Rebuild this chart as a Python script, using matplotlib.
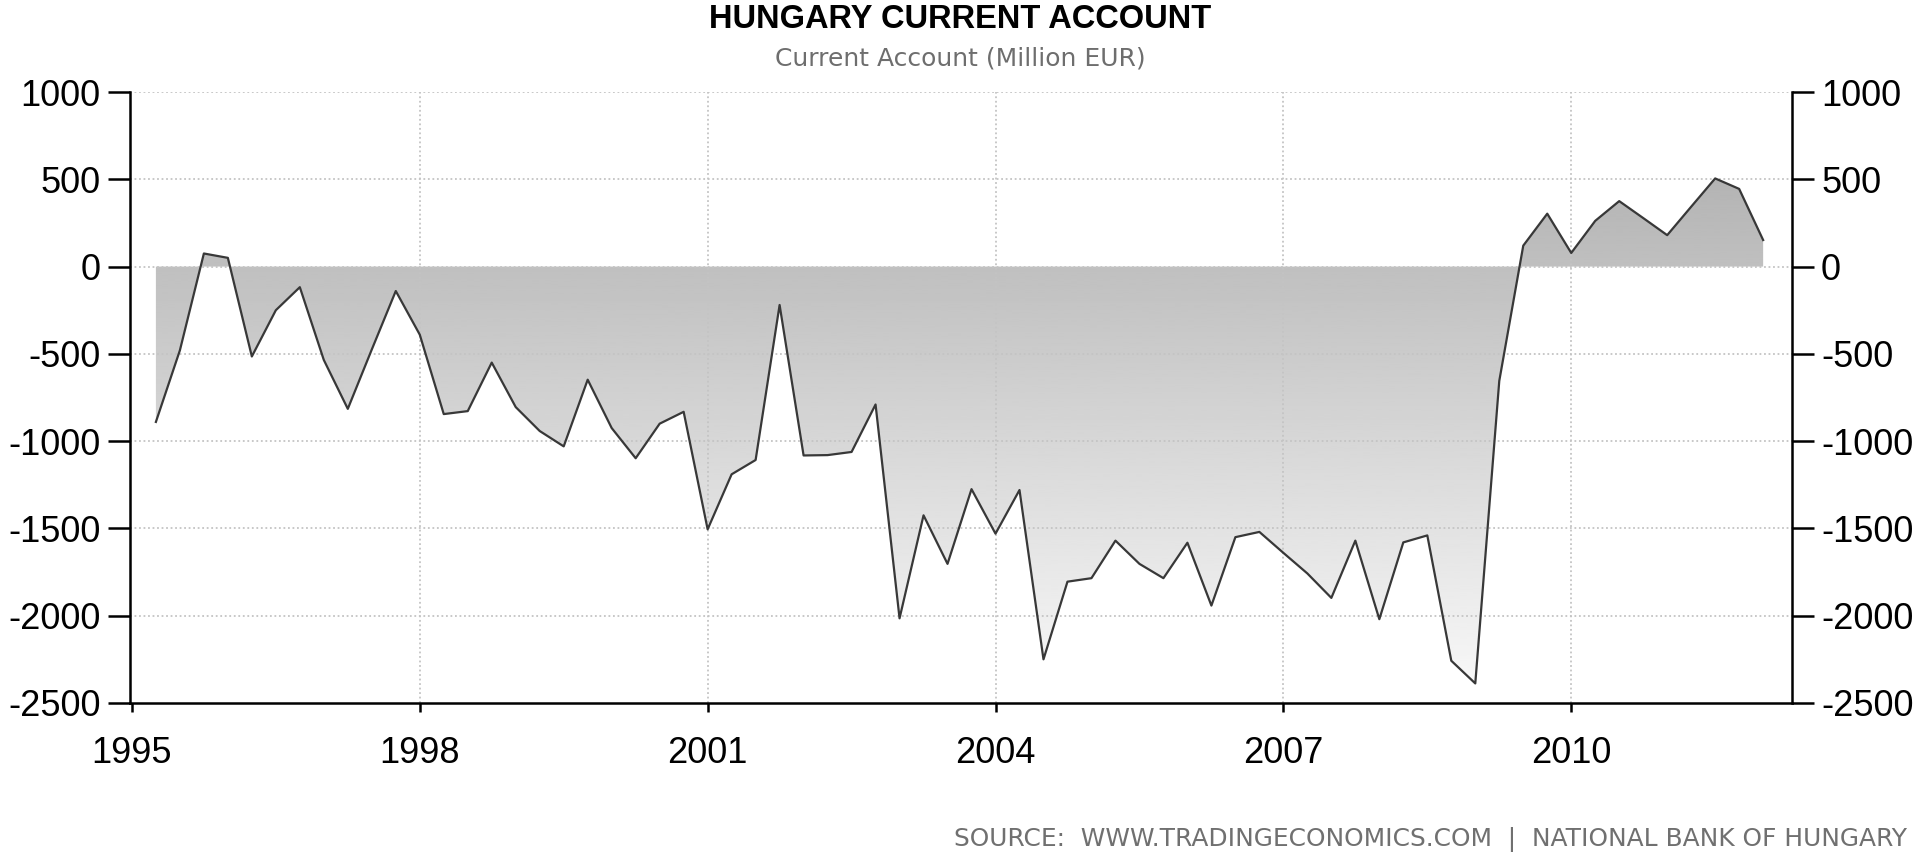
import numpy as np
import matplotlib
matplotlib.use("Agg")
import matplotlib.pyplot as plt
from matplotlib.patches import PathPatch

plt.rcParams['font.family'] = ['Liberation Sans', 'DejaVu Sans']

# ---- data (quarterly, million EUR) ----
years = list(range(1995, 2012))
quarters = [1, 2, 3, 4]
current_account = [
    -890, -480, 75, 50,          # 1995
    -515, -250, -118, -535,      # 1996
    -815, -475, -140, -390,      # 1997
    -845, -828, -550, -805,      # 1998
    -942, -1030, -648, -925,     # 1999
    -1098, -900, -832, -1505,    # 2000
    -1190, -1108, -220, -1082,   # 2001
    -1080, -1062, -790, -2015,   # 2002
    -1425, -1703, -1275, -1530,  # 2003
    -1280, -2250, -1805, -1785,  # 2004
    -1570, -1703, -1785, -1582,  # 2005
    -1942, -1550, -1520, -1640,  # 2006
    -1758, -1898, -1570, -2020,  # 2007
    -1580, -1540, -2258, -2388,  # 2008
    -655, 120, 303, 78,          # 2009
    262, 375, 278, 180,          # 2010
    343, 505, 445, 152,          # 2011
]
x_ticks = [1995, 1998, 2001, 2004, 2007, 2010]
y_ticks = [1000, 500, 0, -500, -1000, -1500, -2000, -2500]

# quarter-end positions
t = np.array([y + q / 4.0 for y in years for q in quarters])
v = np.array(current_account, dtype=float)

fig = plt.figure(figsize=(19.2, 8.52), dpi=100)
ax = fig.add_axes([0.0677, 0.1749, 0.8656, 0.7171])
xmin, xmax = 1994.98, 2012.30
ymin, ymax = -2500, 1000
ax.set_xlim(xmin, xmax)
ax.set_ylim(ymin, ymax)

# gradient fill between line and zero
poly = ax.fill_between(t, v, 0, color='none', lw=0)
grad = np.linspace(0.98, 0.66, 256).reshape(-1, 1)
im = ax.imshow(grad, extent=[xmin, xmax, ymin, ymax], aspect='auto',
               cmap='gray', vmin=0, vmax=1, origin='lower', zorder=1,
               interpolation='bilinear')
patch = PathPatch(poly.get_paths()[0], transform=ax.transData,
                  facecolor='none', edgecolor='none')
ax.add_patch(patch)
im.set_clip_path(patch)

ax.plot(t, v, color='#383838', lw=1.6, zorder=3)

# grid
for yv in y_ticks[:-1]:
    ax.axhline(yv, color='#c4c4c4', lw=1.3, ls=(0, (1, 1.5)), zorder=2)
for xv in x_ticks[1:]:
    ax.axvline(xv, color='#c4c4c4', lw=1.3, ls=(0, (1, 1.5)), zorder=2)

# spines
ax.spines['top'].set_visible(False)
for s in ['left', 'right', 'bottom']:
    ax.spines[s].set_linewidth(1.8)
    ax.spines[s].set_color('black')

ax.set_xticks(x_ticks)
ax.set_xticklabels([str(x) for x in x_ticks])
ax.set_yticks(y_ticks)
ax.set_yticklabels([str(y) for y in y_ticks])
ax.tick_params(axis='y', which='both', left=True, right=True,
               labelleft=True, labelright=True, direction='out',
               length=16, width=1.8, pad=5, labelsize=26)
ax.tick_params(axis='x', direction='out', length=6.5, width=1.8, pad=17,
               labelsize=26)

fig.text(0.5, 0.9671, 'HUNGARY CURRENT ACCOUNT', ha='center',
         va='baseline', fontsize=23.5, fontweight='bold', color='black')
fig.text(0.5, 0.9237, 'Current Account (Million EUR)', ha='center',
         va='baseline', fontsize=18, color='#6e6e6e', family='DejaVu Sans')
fig.text(0.993, 0.0065,
         'SOURCE:  WWW.TRADINGECONOMICS.COM  |  NATIONAL BANK OF HUNGARY',
         ha='right', va='baseline', fontsize=17.9, color='#707070',
         family='DejaVu Sans')

fig.savefig('out.png', dpi=100)
